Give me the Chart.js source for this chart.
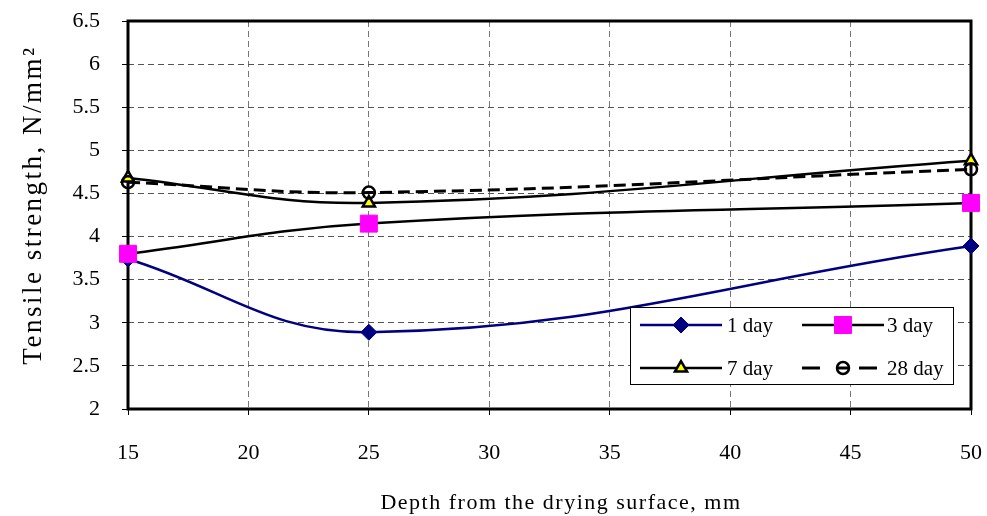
<!DOCTYPE html>
<html>
<head>
<meta charset="utf-8">
<script src="https://cdn.jsdelivr.net/npm/chart.js@4.4.1/dist/chart.umd.min.js"></script>
<style>
  html, body { margin: 0; padding: 0; background: #fff; }
  canvas { display: block; }
</style>
</head>
<body>
<canvas id="myChart" width="987" height="516"></canvas>
<script>
// depth (mm) and tensile strength (N/mm2)
const depths = [15, 25, 50];
const day1 = [3.74, 2.89, 3.89];
const day3 = [3.80, 4.15, 4.39];
const day7 = [4.68, 4.39, 4.88];
const day28 = [4.63, 4.51, 4.78];
const seriesNames = [`1 day`, `3 day`, `7 day`, `28 day`];
const xTitle = `Depth from the drying surface, mm`;
const yTitle = `Tensile strength, N/mm²`;

const serif = `"Liberation Serif", "Times New Roman", serif`;

const pts = (vals) => depths.map((x, i) => ({ x: x, y: vals[i] }));

// keep the plot box where the layout padding puts it
const pinScale = (size) => (s) => {
  if (s.isHorizontal()) s.height = size; else s.width = size;
  s.paddingTop = 0;
  s.paddingBottom = 0;
  s.paddingLeft = 0;
  s.paddingRight = 0;
};

// plot frame, drawn under the markers
const frame = {
  id: `frame`,
  beforeDatasetsDraw(chart) {
    const { ctx, chartArea: a } = chart;
    ctx.save();
    ctx.strokeStyle = `#000`;
    ctx.lineWidth = 3;
    ctx.strokeRect(a.left, a.top, a.right - a.left, a.bottom - a.top);
    ctx.restore();
  }
};

// axis titles, spaced out like the original
const axisTitles = {
  id: `axisTitles`,
  afterDraw(chart) {
    const ctx = chart.ctx;
    ctx.save();
    ctx.fillStyle = `#000`;
    ctx.textBaseline = `alphabetic`;

    ctx.font = `22px ${serif}`;
    ctx.letterSpacing = `1.5px`;
    let w = ctx.measureText(xTitle).width;
    ctx.textAlign = `left`;
    ctx.fillText(xTitle, 561 - w / 2, 509);

    ctx.font = `27px ${serif}`;
    ctx.letterSpacing = `2.5px`;
    w = ctx.measureText(yTitle).width;
    ctx.translate(41, 205);
    ctx.rotate(-Math.PI / 2);
    ctx.fillText(yTitle, -w / 2, 0);
    ctx.restore();
  }
};

// excel-like boxed legend, 2 x 2
const boxLegend = {
  id: `boxLegend`,
  afterDraw(chart) {
    const ctx = chart.ctx;
    const slots = [
      { lx: 640, tx: 727, y: 325 },
      { lx: 802, tx: 887, y: 325 },
      { lx: 640, tx: 727, y: 368 },
      { lx: 802, tx: 887, y: 368 }
    ];
    ctx.save();
    ctx.fillStyle = `#fff`;
    ctx.fillRect(630, 307, 323, 77);
    ctx.strokeStyle = `#000`;
    ctx.lineWidth = 1;
    ctx.strokeRect(630.5, 307.5, 323, 77);

    chart.data.datasets.forEach((ds, i) => {
      const s = slots[i];
      const len = 82;
      const mid = s.lx + len / 2;
      ctx.strokeStyle = ds.borderColor;
      ctx.lineWidth = ds.borderWidth;
      ctx.setLineDash([]);
      ctx.beginPath();
      if (ds.borderDash && ds.borderDash.length) {
        ctx.moveTo(s.lx, s.y); ctx.lineTo(s.lx + 18, s.y);
        ctx.moveTo(mid - 7, s.y); ctx.lineTo(mid + 7, s.y);
        ctx.moveTo(s.lx + 57, s.y); ctx.lineTo(s.lx + 75, s.y);
      } else {
        ctx.moveTo(s.lx, s.y); ctx.lineTo(s.lx + len, s.y);
      }
      ctx.stroke();

      ctx.fillStyle = ds.pointBackgroundColor;
      ctx.strokeStyle = ds.pointBorderColor;
      ctx.lineWidth = ds.pointBorderWidth;
      Chart.helpers.drawPoint(ctx, {
        pointStyle: ds.pointStyle,
        radius: ds.pointRadius,
        rotation: 0,
        borderWidth: ds.pointBorderWidth
      }, mid, s.y);

      ctx.fillStyle = `#000`;
      ctx.font = `21px ${serif}`;
      ctx.textBaseline = `middle`;
      ctx.textAlign = `left`;
      ctx.fillText(seriesNames[i], s.tx, s.y + 1);
    });
    ctx.restore();
  }
};

const myChart = new Chart(document.getElementById(`myChart`).getContext(`2d`), {
  type: `line`,
  data: {
    datasets: [
      {
        label: seriesNames[0],
        data: pts(day1),
        borderColor: `#000080`,
        borderWidth: 2.5,
        pointStyle: `rectRot`,
        pointRadius: 8,
        pointBackgroundColor: `#000080`,
        pointBorderColor: `#000080`,
        pointBorderWidth: 1,
        clip: false,
        order: 4
      },
      {
        label: seriesNames[1],
        data: pts(day3),
        borderColor: `#000`,
        borderWidth: 2.5,
        pointStyle: `rect`,
        pointRadius: 12,
        pointBackgroundColor: `#ff00ff`,
        pointBorderColor: `#ff00ff`,
        pointBorderWidth: 1,
        clip: false,
        order: 3
      },
      {
        label: seriesNames[2],
        data: pts(day7),
        borderColor: `#000`,
        borderWidth: 2.5,
        pointStyle: `triangle`,
        pointRadius: 7,
        pointBackgroundColor: `#ffff00`,
        pointBorderColor: `#000`,
        pointBorderWidth: 2.5,
        clip: false,
        order: 2
      },
      {
        label: seriesNames[3],
        data: pts(day28),
        borderColor: `#000`,
        borderWidth: 3,
        borderDash: [12, 6],
        pointStyle: `circle`,
        pointRadius: 6,
        pointBackgroundColor: `rgba(0,0,0,0)`,
        pointBorderColor: `#000`,
        pointBorderWidth: 2.5,
        clip: false,
        order: 1
      }
    ]
  },
  options: {
    responsive: false,
    animation: false,
    events: [],
    elements: { line: { tension: 0.4, fill: false } },
    layout: { padding: { left: 0, top: 21, right: 16, bottom: 0 } },
    plugins: {
      legend: { display: false },
      tooltip: { enabled: false }
    },
    scales: {
      x: {
        type: `linear`,
        min: 15,
        max: 50,
        afterFit: pinScale(107),
        ticks: {
          stepSize: 5,
          color: `#000`,
          padding: 25,
          maxRotation: 0,
          font: { family: serif, size: 22 }
        },
        grid: {
          color: `#777`,
          lineWidth: 1,
          tickLength: 6,
          tickColor: `#000`,
          tickBorderDash: []
        },
        border: { display: false, dash: [6, 4] }
      },
      y: {
        min: 2,
        max: 6.5,
        afterFit: pinScale(128),
        ticks: {
          stepSize: 0.5,
          color: `#000`,
          padding: 22,
          font: { family: serif, size: 22 },
          callback: (v) => `${+v.toFixed(1)}`
        },
        grid: {
          color: `#555`,
          lineWidth: 1,
          tickLength: 6,
          tickColor: `#000`,
          tickBorderDash: []
        },
        border: { display: false, dash: [6, 4] }
      }
    }
  },
  plugins: [frame, axisTitles, boxLegend]
});
</script>
</body>
</html>
